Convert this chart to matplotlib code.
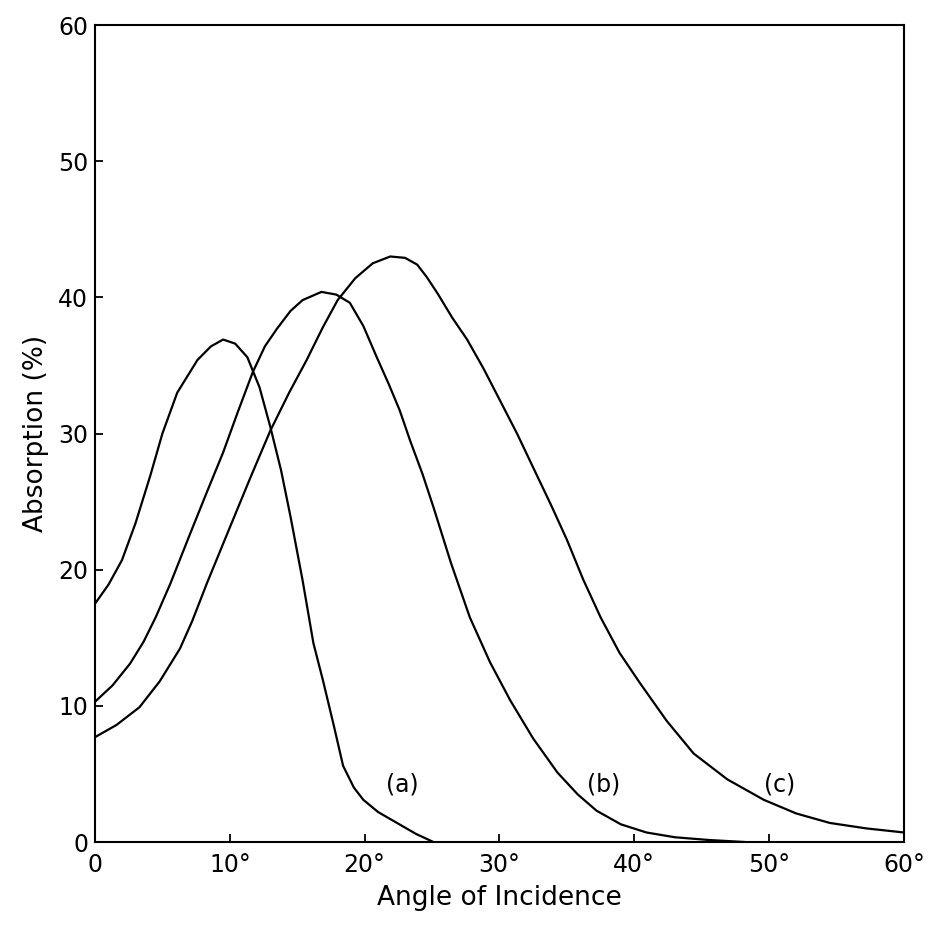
import matplotlib
matplotlib.use('Agg')
import matplotlib.pyplot as plt

# curve (a)
xa = [0, 1.0, 2.0, 3.0, 4.1, 5.0, 6.1, 7.6, 8.6, 9.5, 10.4, 11.3, 12.2, 13.0, 13.8, 14.5, 15.4, 16.2, 16.9, 17.7, 18.4, 19.2, 19.9, 21.0, 22.4, 23.8, 25.1]
ya = [17.5, 18.9, 20.7, 23.4, 26.9, 30.0, 33.0, 35.4, 36.4, 36.9, 36.6, 35.6, 33.4, 30.5, 27.3, 23.9, 19.2, 14.6, 11.9, 8.6, 5.6, 4.0, 3.1, 2.2, 1.4, 0.6, 0.0]

# curve (b)
xb = [0, 1.3, 2.6, 3.6, 4.5, 5.6, 7.0, 8.3, 9.5, 10.6, 11.7, 12.6, 13.5, 14.5, 15.4, 16.8, 17.9, 18.9, 19.9, 20.9, 21.8, 22.6, 23.4, 24.3, 25.1, 26.4, 27.8, 29.3, 30.8, 32.5, 34.3, 35.8, 37.2, 39.0, 40.9, 43.0, 45.5, 48.2]
yb = [10.3, 11.5, 13.1, 14.7, 16.5, 19.0, 22.5, 25.7, 28.6, 31.6, 34.5, 36.4, 37.7, 39.0, 39.8, 40.4, 40.2, 39.6, 37.9, 35.6, 33.6, 31.7, 29.4, 27.0, 24.6, 20.5, 16.5, 13.2, 10.4, 7.6, 5.1, 3.5, 2.3, 1.3, 0.7, 0.35, 0.15, 0.0]

# curve (c)
xc = [0, 1.6, 3.3, 4.8, 6.3, 7.2, 8.3, 10.0, 11.5, 13.0, 14.4, 15.7, 16.9, 18.0, 19.3, 20.6, 21.9, 23.0, 23.9, 24.6, 25.4, 26.5, 27.6, 28.8, 30.0, 31.3, 32.5, 33.8, 35.0, 36.2, 37.5, 38.9, 40.4, 42.4, 44.4, 46.9, 49.6, 52.0, 54.5, 57.2, 60.0]
yc = [7.7, 8.6, 9.9, 11.8, 14.2, 16.2, 19.0, 23.1, 26.7, 30.2, 33.0, 35.4, 37.8, 39.8, 41.4, 42.5, 43.0, 42.9, 42.4, 41.5, 40.3, 38.5, 36.9, 34.8, 32.5, 30.0, 27.5, 24.8, 22.2, 19.3, 16.5, 13.9, 11.7, 8.9, 6.5, 4.6, 3.1, 2.1, 1.4, 1.0, 0.7]

xticks = [0, 10, 20, 30, 40, 50, 60]
xticklabels = ['0', '10°', '20°', '30°', '40°', '50°', '60°']
yticks = [0, 10, 20, 30, 40, 50, 60]

fig = plt.figure(figsize=(9.35, 9.26), dpi=100)
ax = fig.add_axes([0.1016, 0.0907, 0.8652, 0.8823])

for xs, ys in [(xa, ya), (xb, yb), (xc, yc)]:
    ax.plot(xs, ys, color='black', lw=1.6, solid_capstyle='round', solid_joinstyle='round')

# curve labels
ax.text(22.8, 4.2, '(a)', fontsize=17, ha='center', va='center')
ax.text(37.7, 4.2, '(b)', fontsize=17, ha='center', va='center')
ax.text(50.8, 4.2, '(c)', fontsize=17, ha='center', va='center')

ax.set_xlim(0, 60)
ax.set_ylim(0, 60)
ax.set_xticks(xticks)
ax.set_xticklabels(xticklabels)
ax.set_yticks(yticks)
ax.tick_params(direction='in', length=6, width=1.3, labelsize=17)
ax.tick_params(axis='x', pad=8)
ax.tick_params(axis='y', pad=5)
for s in ax.spines.values():
    s.set_linewidth(1.5)

ax.set_xlabel('Angle of Incidence', fontsize=19, labelpad=6)
ax.set_ylabel('Absorption (%)', fontsize=19, labelpad=6)

fig.savefig('out.png', dpi=100)
